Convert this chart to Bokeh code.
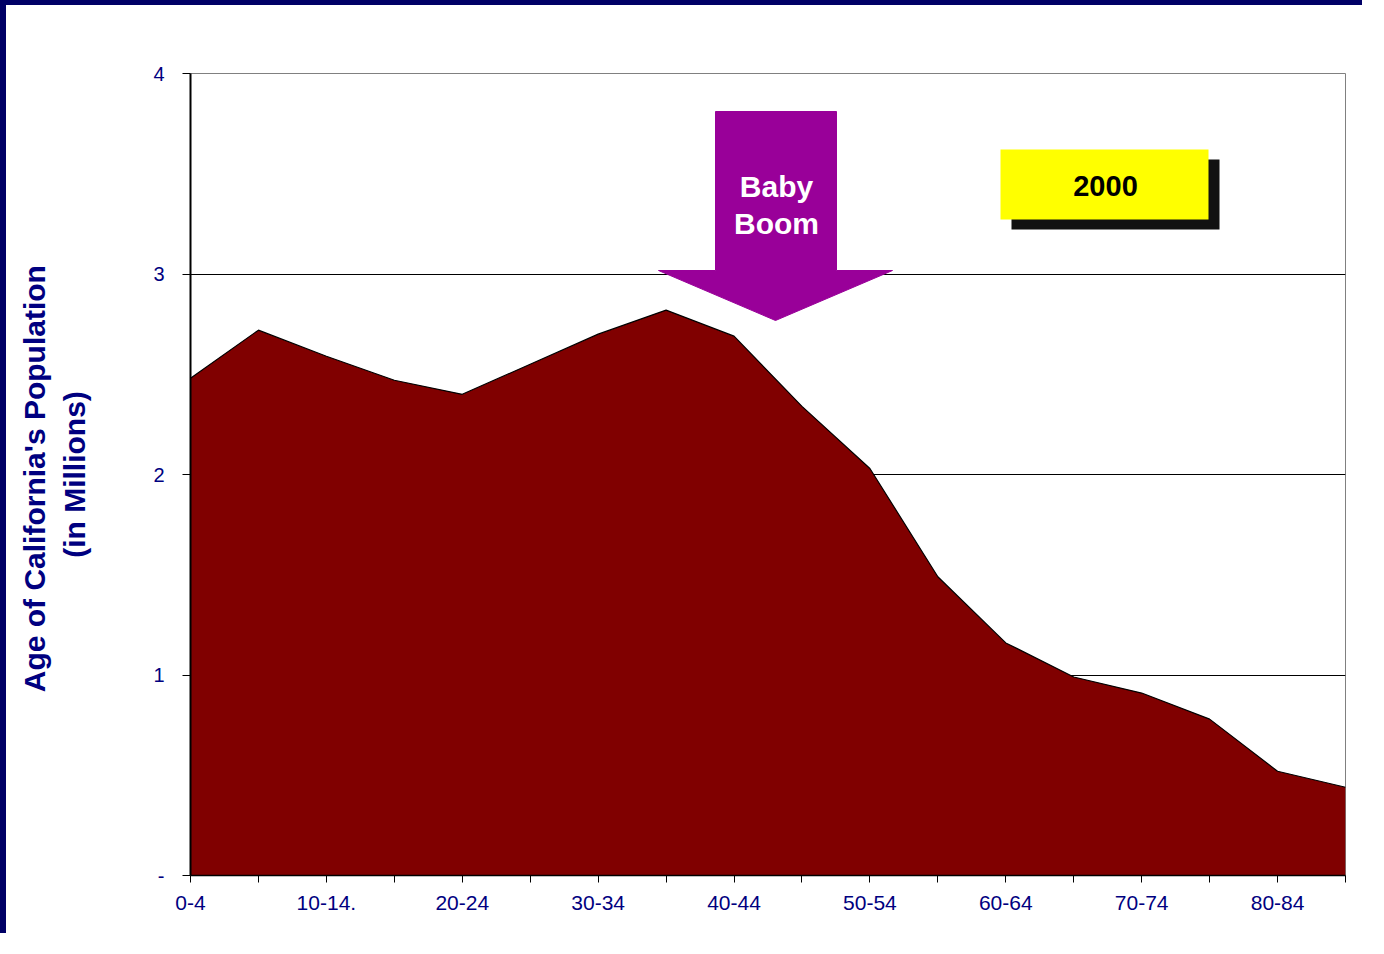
from bokeh.plotting import figure
from bokeh.models import Range1d, FixedTicker, Title
from bokeh.core.properties import value
from bokeh.embed import file_html
from bokeh.resources import INLINE

# ---- data ----
age_groups = ["0-4", "5-9", "10-14.", "15-19", "20-24", "25-29", "30-34", "35-39",
              "40-44", "45-49", "50-54", "55-59", "60-64", "65-69", "70-74",
              "75-79", "80-84", "85+"]
population_millions = [2.48, 2.72, 2.59, 2.47, 2.40, 2.55, 2.70, 2.82,
                       2.69, 2.34, 2.03, 1.49, 1.16, 0.99, 0.91,
                       0.78, 0.52, 0.44]
shown_labels = ["0-4", "10-14.", "20-24", "30-34", "40-44", "50-54", "60-64", "70-74", "80-84"]
y_ticks = [0, 1, 2, 3, 4]
y_tick_labels = ["-", "1", "2", "3", "4"]
year_label = "2000"
arrow_label = ["Baby", "Boom"]
y_title = ["Age  of California's Population", "(in Millions)"]

NAVY = "#000080"
FONT = "Liberation Sans"

xs = list(range(len(age_groups)))

p = figure(width=1362, height=933, output_backend="svg", toolbar_location=None,
           x_range=Range1d(0, len(age_groups) - 1), y_range=Range1d(0, 4),
           min_border_left=184, min_border_right=23, min_border_top=68, min_border_bottom=63,
           background_fill_color="white", border_fill_color="white")
p.styles = {"border-top": "5px solid #000066", "border-left": "6px solid #000066"}

p.outline_line_color = "#808080"
p.outline_line_width = 1
p.xgrid.visible = False
p.ygrid.ticker = FixedTicker(ticks=[1, 2, 3])
p.ygrid.grid_line_color = "#000000"
p.ygrid.grid_line_width = 1

# area
p.varea(x=xs, y1=[0] * len(xs), y2=population_millions, fill_color="#800000")
p.line(x=xs, y=population_millions, line_color="black", line_width=1.2)

# axes
p.xaxis.ticker = FixedTicker(ticks=xs)
p.xaxis.major_label_overrides = {i: (lab if lab in shown_labels else "") for i, lab in enumerate(age_groups)}
p.xaxis.major_label_text_font = FONT
p.xaxis.major_label_text_font_size = "21px"
p.xaxis.major_label_text_color = NAVY
p.xaxis.major_tick_out = 7
p.xaxis.major_tick_in = 0
p.xaxis.minor_tick_line_color = None
p.xaxis.axis_line_color = "black"
p.xaxis.axis_line_width = 1.5
p.xaxis.major_label_standoff = 13

p.yaxis.ticker = FixedTicker(ticks=y_ticks)
p.yaxis.major_label_overrides = {t: l for t, l in zip(y_ticks, y_tick_labels)}
p.yaxis.major_label_text_font = FONT
p.yaxis.major_label_text_font_size = "20px"
p.yaxis.major_label_text_color = NAVY
p.yaxis.major_tick_out = 8
p.yaxis.major_tick_in = 0
p.yaxis.minor_tick_line_color = None
p.yaxis.axis_line_color = "black"
p.yaxis.axis_line_width = 2
p.yaxis.major_label_standoff = 18

# Y axis title: second line as axis label, first line as an outer title
p.yaxis.axis_label = y_title[1]
p.yaxis.axis_label_text_font = FONT
p.yaxis.axis_label_text_font_style = "bold"
p.yaxis.axis_label_text_font_size = "30px"
p.yaxis.axis_label_text_color = NAVY
p.yaxis.axis_label_standoff = 59
p.add_layout(Title(text=y_title[0], align="center", text_font=FONT, text_font_style="bold",
                   text_font_size="30px", text_color=NAVY, standoff=10), "left")

# helper: map reference pixel to data coordinates (annotation placement only)
def dx(px):
    return (px - 190) / (1155 / 17)

def dy(py):
    return (875 - py) / (802 / 4)

# Baby Boom arrow
ax = [dx(715), dx(836), dx(836), dx(892), dx(775), dx(658), dx(715)]
ay = [dy(111), dy(111), dy(270), dy(270), dy(320), dy(270), dy(270)]
p.patch(ax, ay, fill_color="#990099", line_color="#990099", line_width=1)
p.text(x=[dx(776), dx(776)], y=[dy(186), dy(223)], text=arrow_label,
       text_font=value(FONT), text_font_style="bold", text_font_size="30px",
       text_color="white", text_align="center", text_baseline="middle")

# Year box with shadow
p.quad(left=dx(1011), right=dx(1219), top=dy(159), bottom=dy(229),
       fill_color="#111111", line_color=None)
p.quad(left=dx(1000), right=dx(1208), top=dy(149), bottom=dy(219),
       fill_color="#ffff00", line_color=None)
p.text(x=[dx(1105)], y=[dy(185)], text=[year_label],
       text_font=value(FONT), text_font_style="bold", text_font_size="29px",
       text_color="black", text_align="center", text_baseline="middle")

open("out.html", "w").write(file_html(p, INLINE))
